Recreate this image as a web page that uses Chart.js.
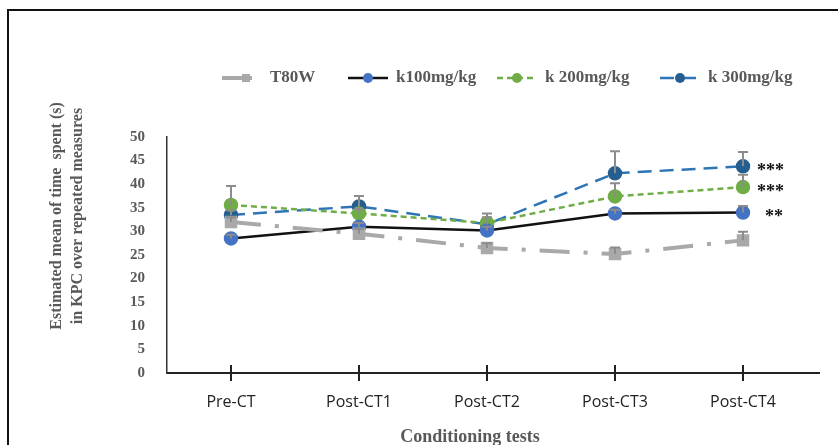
<!DOCTYPE html>
<html>
<head>
<meta charset="utf-8">
<script src="https://cdn.jsdelivr.net/npm/chart.js@4.4.1/dist/chart.umd.min.js"></script>
<style>
  html, body { margin: 0; padding: 0; background: #fff; }
  #wrap { position: relative; width: 838px; height: 445px; overflow: hidden; }
  #frame { position: absolute; left: 7px; top: 9px; width: 900px; height: 500px;
           border-top: 2px solid #111; border-left: 2px solid #111; }
  canvas { position: absolute; left: 0; top: 0; }
</style>
</head>
<body>
<div id="wrap">
  <div id="frame"></div>
  <canvas id="c" width="838" height="445"></canvas>
</div>
<script>
// data
const tests = ["Pre-CT", "Post-CT1", "Post-CT2", "Post-CT3", "Post-CT4"];
const t80w = [32.0, 29.5, 26.5, 25.2, 28.1];
const t80wErr = [1.0, 1.0, 1.0, 1.4, 1.8];
const k100 = [28.5, 31.0, 30.2, 33.8, 34.0];
const k100Err = [0.8, 0.8, 0.8, 0.8, 1.4];
const k200 = [35.6, 33.8, 31.8, 37.4, 39.4];
const k200Err = [4.0, 1.0, 2.0, 2.8, 2.6];
const k300 = [33.5, 35.3, 31.5, 42.3, 43.8];
const k300Err = [1.0, 2.2, 1.5, 4.7, 3.0];
const stars = ["", "**", "***", "***"];
const yTicks = [0, 5, 10, 15, 20, 25, 30, 35, 40, 45, 50];

const serif = '"Liberation Serif", "Times New Roman", serif';
const sans = '"Open Sans", "Liberation Sans", sans-serif';

// error bars (upper half only, with a cap) and significance marks
const errorBars = {
  id: "errorBars",
  afterDatasetsDraw(chart) {
    const ctx = chart.ctx, y = chart.scales.y;
    ctx.save();
    ctx.strokeStyle = "#8c8c8c";
    ctx.lineWidth = 2;
    chart.data.datasets.forEach((ds, i) => {
      chart.getDatasetMeta(i).data.forEach((pt, j) => {
        const top = y.getPixelForValue(ds.data[j] + ds.err[j]);
        ctx.beginPath();
        ctx.moveTo(pt.x, pt.y);
        ctx.lineTo(pt.x, top);
        ctx.moveTo(pt.x - 5, top);
        ctx.lineTo(pt.x + 5, top);
        ctx.stroke();
      });
    });
    ctx.fillStyle = "#111";
    ctx.font = "bold 18px " + serif;
    ctx.textBaseline = "middle";
    chart.data.datasets.forEach((ds, i) => {
      if (!stars[i]) return;
      const pts = chart.getDatasetMeta(i).data;
      const pt = pts[pts.length - 1];
      const dx = stars[i].length === 2 ? 22 : 14;
      ctx.fillText(stars[i], pt.x + dx, pt.y + 5);
    });
    ctx.restore();
  }
};

// x-axis ticks crossing the axis, custom legend and axis titles
const legendX = [222, 348, 497, 660];
const decor = {
  id: "decor",
  afterDraw(chart) {
    const ctx = chart.ctx, x = chart.scales.x, area = chart.chartArea;
    ctx.save();
    ctx.strokeStyle = "#222";
    ctx.lineWidth = 2;
    ctx.beginPath();
    ctx.moveTo(area.right, area.bottom);
    ctx.lineTo(820, area.bottom);
    ctx.stroke();
    x.ticks.forEach((t, i) => {
      const px = x.getPixelForTick(i);
      ctx.beginPath();
      ctx.moveTo(px, area.bottom - 8);
      ctx.lineTo(px, area.bottom + 8);
      ctx.stroke();
    });

    // legend
    ctx.font = "bold 17px " + serif;
    ctx.textBaseline = "middle";
    const ly = 78;
    chart.data.datasets.forEach((ds, i) => {
      const lx = legendX[i];
      ctx.strokeStyle = ds.borderColor;
      ctx.lineWidth = ds.borderWidth;
      ctx.setLineDash(ds.borderDash || []);
      ctx.beginPath();
      ctx.moveTo(lx, ly);
      ctx.lineTo(lx + 40, ly);
      ctx.stroke();
      ctx.setLineDash([]);
      ctx.fillStyle = ds.pointBackgroundColor;
      ctx.beginPath();
      if (ds.pointStyle === "rect") ctx.rect(lx + 20, ly - 4, 8, 8);
      else ctx.arc(lx + 20, ly, 5, 0, Math.PI * 2);
      ctx.fill();
      ctx.fillStyle = "#595959";
      ctx.fillText(ds.label, lx + 48, ly);
    });

    // y title, two lines
    ctx.fillStyle = "#595959";
    ctx.font = "bold 16px " + serif;
    ctx.textAlign = "center";
    ctx.translate(57, 216);
    ctx.rotate(-Math.PI / 2);
    ctx.fillText("Estimated mean of time  spent (s)", 0, 0);
    ctx.fillText("in KPC over repeated measures", 0, 21);
    ctx.restore();

    ctx.save();
    ctx.fillStyle = "#595959";
    ctx.font = "bold 18px " + serif;
    ctx.textAlign = "center";
    ctx.textBaseline = "middle";
    ctx.fillText("Conditioning tests", 470, 437);
    ctx.restore();
  }
};

new Chart(document.getElementById("c"), {
  type: "line",
  data: {
    labels: tests,
    datasets: [
      {
        label: "T80W", data: t80w, err: t80wErr,
        borderColor: "#a9a9a9", borderWidth: 4, borderDash: [30, 14, 4, 14],
        pointStyle: "rect", pointRadius: 6, pointBackgroundColor: "#a9a9a9", pointBorderColor: "#a9a9a9"
      },
      {
        label: "k100mg/kg", data: k100, err: k100Err,
        borderColor: "#111", borderWidth: 2.5,
        pointRadius: 6, pointBackgroundColor: "#4472c4", pointBorderColor: "#4472c4"
      },
      {
        label: "k 200mg/kg", data: k200, err: k200Err,
        borderColor: "#70ad47", borderWidth: 2.5, borderDash: [6, 4],
        pointRadius: 6, pointBackgroundColor: "#70ad47", pointBorderColor: "#70ad47"
      },
      {
        label: "k 300mg/kg", data: k300, err: k300Err,
        borderColor: "#2e75b6", borderWidth: 2.5, borderDash: [14, 8],
        pointRadius: 6, pointBackgroundColor: "#255e91", pointBorderColor: "#255e91"
      }
    ]
  },
  options: {
    responsive: false,
    animation: false,
    layout: { padding: { top: 137, right: 31, left: 0, bottom: 0 } },
    plugins: { legend: { display: false }, tooltip: { enabled: false } },
    scales: {
      x: {
        offset: true,
        grid: { display: false },
        border: { color: "#222", width: 2 },
        ticks: { color: "#222", font: { family: sans, size: 16 }, padding: 12 },
        afterFit: s => { s.height = 72; }
      },
      y: {
        min: 0, max: 50,
        afterBuildTicks: s => { s.ticks = yTicks.map(v => ({ value: v })); },
        grid: { display: false },
        border: { color: "#333", width: 1.5 },
        ticks: { color: "#595959", font: { family: serif, size: 15, weight: "bold" }, padding: 14 },
        afterFit: s => { s.width = 167; }
      }
    }
  },
  plugins: [errorBars, decor]
});
</script>
</body>
</html>
